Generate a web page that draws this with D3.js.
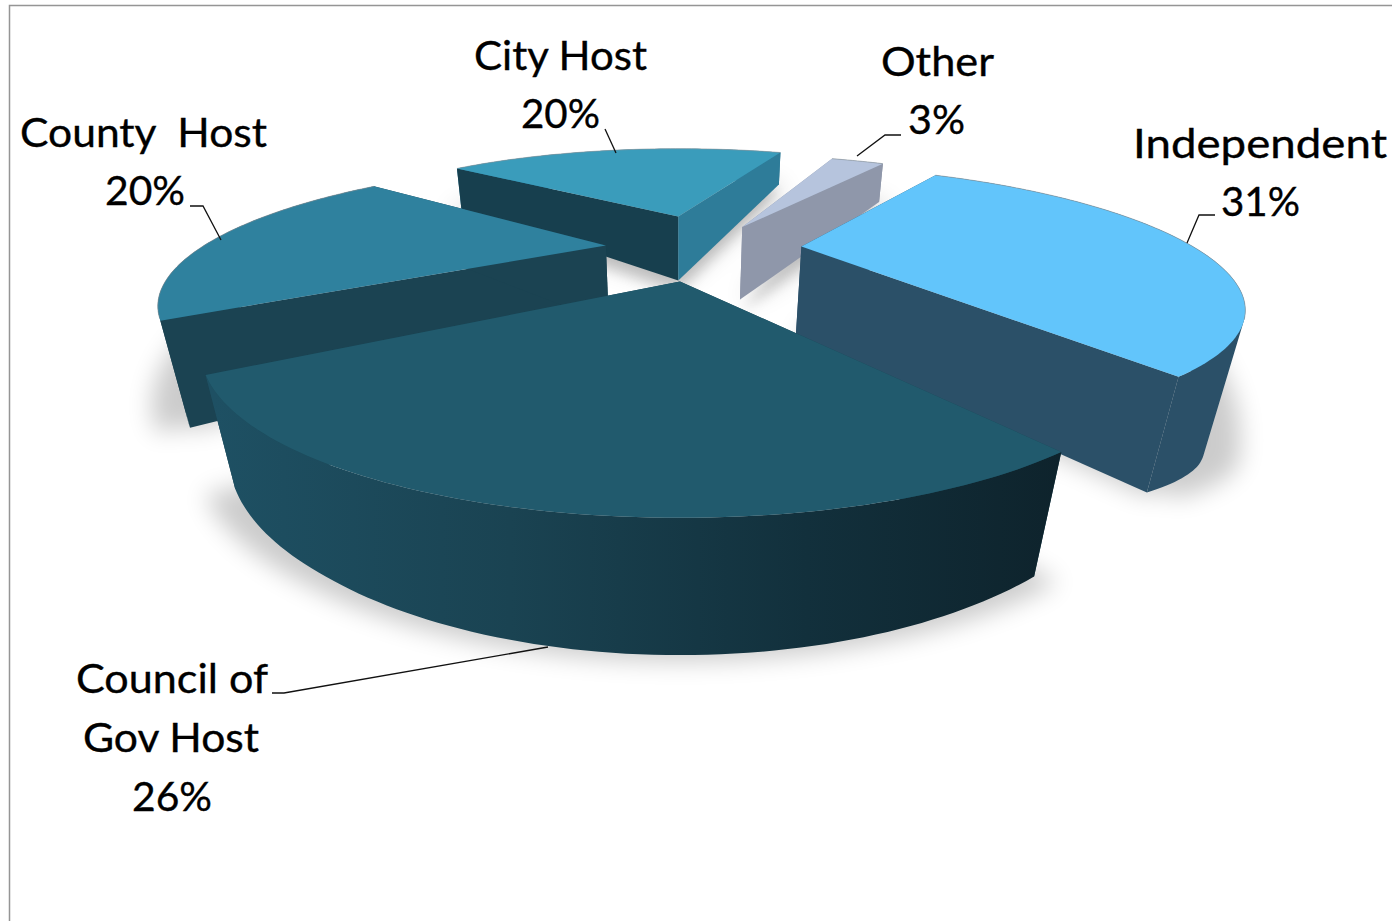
<!DOCTYPE html>
<html>
<head>
<meta charset="utf-8">
<script src="https://cdn.jsdelivr.net/npm/d3@7"></script>
<style>
  html, body { margin: 0; padding: 0; background: #fff; }
  svg { display: block; }
  text { font-family: Lato, "Open Sans", sans-serif; fill: #000; stroke: #000; stroke-width: 0.35; }
</style>
</head>
<body>
<svg id="chart" width="1392" height="921"></svg>
<script>
// Funding host shares, clockwise from the back of the pie
const categories = ["Independent", "Council of Gov Host", "County Host", "City Host", "Other"];
const shares = [31, 26, 20, 20, 3];

// Label text, broken into display lines
const labelLines = [["Independent"], ["Council of", "Gov Host"], ["County  Host"], ["City Host"], ["Other"]];

// Colours per slice: top face, clockwise-leading wall, trailing wall, outer rim
const topFill = ["#62c5fb", "#215a6d", "#2f819e", "#3a9cbb", "#b6c4dd"];
const startWallFill = ["#2b5068", "#1a4655", "#1b4352", "#173f4e", "#8f97aa"];
const endWallFill = ["#2b5068", "#1a4655", "#1b4352", "#2e7c99", "#8f97aa"];
const rimFill = ["#2b5068", "url(#councilRim)", "#1b4352", "#2e7c99", "#8f97aa"];

// Perspective camera for the pie plane: u runs right, v towards the viewer
const cam = { cx: 680, horizon: -55, mid: 305, k: 0.374, radius: 396 };
// Where vertical edges converge, and how the slab thickness grows with screen y
const nadir = [680, 2200];
const thickness = d3.scaleLinear()
  .domain([150, 250, 320, 380, 450, 520])
  .range([0.015, 0.041, 0.057, 0.063, 0.071, 0.082]);
const independentThickness = d3.scaleLinear()
  .domain([170, 250, 305, 335, 380])
  .range([0.017, 0.047, 0.072, 0.07, 0.063]);
const otherThickness = d3.scaleLinear().domain([150, 228]).range([0.015, 0.037]);
const thicknessOf = [independentThickness, thickness, thickness, thickness, otherThickness];

// Explosion offset and radius multiplier of each slice in plane units
const offsets = [[0.31, -0.03], [0, 0.25], [-0.19, -0.04], [-0.005, -0.33], [0.17, -0.217]];
const radiusScale = [1, 1, 1.03, 1, 1];
const firstAngle = 33 * Math.PI / 180;

const project = (u, v) => {
  const w = 1 - cam.k * v;
  return [cam.cx + cam.radius * u / w, cam.horizon + cam.mid / w];
};
const drop = ([x, y], i, scale = 1) => {
  const t = thicknessOf[i](y) * scale;
  return [x + t * (nadir[0] - x), y + t * (nadir[1] - y)];
};

const svg = d3.select("#chart");
const line = d3.line();
const closed = pts => line(pts) + "Z";

const defs = svg.append("defs");
const grad = defs.append("linearGradient").attr("id", "councilRim")
  .attr("gradientUnits", "userSpaceOnUse")
  .attr("x1", 215).attr("x2", 1060).attr("y1", 0).attr("y2", 0);
[[0, "#1e5063"], [0.35, "#1a4352"], [0.7, "#12303c"], [1, "#0e232c"]].forEach(([o, c]) =>
  grad.append("stop").attr("offset", o).attr("stop-color", c));
[["soft", 12], ["softer", 6]].forEach(([id, sd]) =>
  defs.append("filter").attr("id", id)
    .attr("x", "-30%").attr("y", "-30%").attr("width", "160%").attr("height", "160%")
    .append("feGaussianBlur").attr("stdDeviation", sd));

// Chart frame
svg.append("rect").attr("x", 9.5).attr("y", 5.5).attr("width", 1500).attr("height", 1000)
  .attr("fill", "#fff").attr("stroke", "#959595").attr("stroke-width", 1.5);

const arcs = d3.pie().sort(null)
  .startAngle(firstAngle).endAngle(firstAngle + 2 * Math.PI)(shares);

const slices = arcs.map((a, i) => {
  const [du, dv] = offsets[i];
  const r = radiusScale[i];
  const n = Math.max(6, Math.ceil((a.endAngle - a.startAngle) / 0.02));
  const rim = d3.range(n + 1).map(j => {
    const th = a.startAngle + (a.endAngle - a.startAngle) * j / n;
    return project(du + r * Math.sin(th), dv - r * Math.cos(th));
  });
  return { i, apex: project(du, dv), rim };
});

// Soft ground shadow under every slice, spread sideways
const shadow = svg.append("g").attr("filter", "url(#soft)").attr("fill", "#000").attr("opacity", 0.2);
slices.forEach(s => {
  const outline = [s.apex, ...s.rim].map(p => drop(p, s.i, 1.03));
  shadow.append("path").attr("d", closed(outline));
  shadow.append("path").attr("d", closed(outline.map(([x, y]) => [x + (x - 680) * 0.07, y + 2])));
});
// Tighter contact shadow in the gaps behind the middle of the pie
const contact = svg.append("g").attr("filter", "url(#softer)").attr("fill", "#000").attr("opacity", 0.13);
[slices[3], slices[4]].forEach(s => {
  contact.append("path").attr("d", closed([s.apex, ...s.rim].map(p => drop(p, s.i, 1.2))));
});

// The outer rim is swept as small quads in one path so its silhouette follows the curved edge
const drawRim = (g, s) => {
  const quads = d3.pairs(s.rim).map(([a, b]) => {
    const q = [a, b, drop(b, s.i), drop(a, s.i)];
    return closed(d3.polygonArea(q) < 0 ? q.reverse() : q);
  });
  g.append("path").attr("fill", rimFill[s.i]).attr("d", quads.join(""));
};
const drawWalls = (g, s) => {
  const first = s.rim[0], last = s.rim[s.rim.length - 1];
  g.append("path").attr("fill", startWallFill[s.i])
    .attr("d", closed([s.apex, first, drop(first, s.i), drop(s.apex, s.i)]));
  g.append("path").attr("fill", endWallFill[s.i])
    .attr("d", closed([s.apex, last, drop(last, s.i), drop(s.apex, s.i)]));
};

// Painter's order: back slices first
const order = [3, 4, 2, 0, 1];
order.forEach(i => {
  const s = slices[i];
  const g = svg.append("g").attr("class", "slice").attr("data-name", categories[i]);
  // The near slice shows its rim in front of its hidden walls; the others show walls
  if (i === 1) { drawWalls(g, s); drawRim(g, s); }
  else { drawRim(g, s); drawWalls(g, s); }
  g.append("path").attr("fill", topFill[i])
    .attr("d", closed([s.apex, ...s.rim]));
  // Thin bevel along the far edge only
  const farEdge = s.rim.filter(p => p[1] < 320);
  if (farEdge.length) {
    g.append("path").attr("fill", "none").attr("stroke", "#87929a")
      .attr("stroke-width", 1).attr("opacity", 0.6).attr("d", line(farEdge));
  }
});

// Leader lines from labels to slices
const leaders = [
  [[1215, 215], [1199, 215], [1187, 243]],
  [[272, 693], [284, 693], [548, 647]],
  [[190, 206], [203, 206], [221, 240]],
  [[605, 129], [616, 153]],
  [[901, 135], [885, 135], [857, 156]]
];
svg.append("g").attr("fill", "none").attr("stroke", "#111").attr("stroke-width", 1.3)
  .selectAll("path").data(leaders).join("path").attr("d", d => line(d));

// Data labels: x extents and baselines of each text line
const labelBoxes = [
  [[1133, 1387, 158], [1221, 1300, 216]],
  [[76, 268, 693], [83, 259, 752], [132, 212, 811]],
  [[20, 267, 147], [105, 185, 205]],
  [[474, 647, 70], [521, 600, 128]],
  [[881, 994, 76], [908, 965, 134]]
];
const labels = svg.append("g").attr("font-size", 41);
categories.forEach((c, i) => {
  const lines = [...labelLines[i], `${shares[i]}%`];
  lines.forEach((txt, j) => {
    const [x0, x1, y] = labelBoxes[i][j];
    labels.append("text").attr("x", x0).attr("y", y)
      .attr("textLength", x1 - x0).attr("lengthAdjust", "spacingAndGlyphs")
      .attr("xml:space", "preserve").style("white-space", "pre")
      .text(txt);
  });
});
</script>
</body>
</html>
